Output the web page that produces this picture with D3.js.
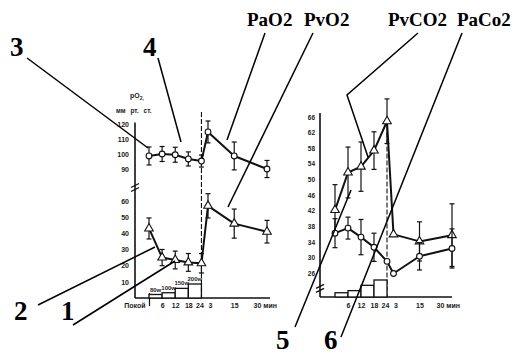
<!DOCTYPE html>
<html><head><meta charset="utf-8">
<script src="https://cdn.jsdelivr.net/npm/d3@7"></script>
<style>body{margin:0;background:#fff}svg{display:block}</style>
</head><body><svg id="c" width="515" height="354"></svg>
<script>
// ---- data ----
const times = [0, 6, 12, 18, 24, 27, 39, 54];
const leftTickLabels = ["Покой", "6", "12", "18", "24", "3", "15", "30 мин"];
const rightTickLabels = ["", "6", "12", "18", "24", "3", "15", "30 мин"];
const paO2 = [98.7, 100, 99.5, 96.7, 95.3, 114.7, 98.7, 90];
const paO2Err = [6, 5, 5, 4.7, 4, 7.3, 9.3, 5.7];
const pvO2 = [43, 25, 23.5, 22, 21.5, 57, 46, 41];
const pvO2Err = [6.5, 5, 5.5, 5.5, 6, 7.5, 9, 7];
const pvCO2 = [42.2, 51.8, 53.3, 57.4, 64.9, 36, 34.2, 35.8];
const pvCO2Err = [6.5, 6.5, 6.3, 4.8, 5.7, 0, 5, 8];
const paCO2 = [36.3, 37.6, 35.3, 32.7, 29.1, 26, 30.4, 32.4];
const paCO2Err = [3.7, 2.8, 4.5, 3.6, 0, 0, 3.5, 5];
const loadStart = [0, 6, 12, 18];
const loadWatts = [80, 100, 150, 200];
const loadLabels = ["80w", "100w", "150w", "200w"];
const leftUpperTicks = [90, 100, 110, 120];
const leftLowerTicks = [10, 20, 30, 40, 50, 60];
const rightTicks = [26, 30, 34, 38, 42, 46, 50, 54, 58, 62, 66];

const svg = d3.select("#c");
const tickFont = "'Liberation Sans', Arial, sans-serif";
const bigFont = "'Liberation Serif', 'Times New Roman', serif";

// ---- scales ----
const xL = d3.scaleLinear([0, 54], [149, 267]);
const xR = d3.scaleLinear([0, 54], [335, 452]);
const yLU = d3.scaleLinear([80, 120], [184, 124]);
const yLL = d3.scaleLinear([0, 64], [298, 194.5]);
const yR = d3.scaleLinear([20, 67], [297, 113]);
const wL = d3.scaleLinear([40, 200], [0, 14]);
const wR = d3.scaleLinear([40, 200], [0, 17]);

function styleAxis(g, size) {
  g.select(".domain").remove();
  g.selectAll("text").attr("font-family", tickFont).attr("font-weight", "bold")
    .attr("font-size", size).attr("fill", "#1a1a1a");
  g.selectAll(".tick line").attr("stroke", "#111").attr("stroke-width", 1);
}
function spreadLabels(g) {
  g.selectAll(".tick text").filter((d, i) => i === 4).attr("dx", -2);
  g.selectAll(".tick text").filter((d, i) => i === 5).attr("dx", 2);
}

// ---- left panel ----
const axL = 135;
svg.append("line").attr("x1", axL).attr("x2", axL).attr("y1", yLU(121)).attr("y2", yLL(0))
  .attr("stroke", "#111").attr("stroke-width", 1.6);
[0, 4].forEach(d => {
  svg.append("line").attr("x1", axL - 4).attr("x2", axL + 4)
    .attr("y1", yLU(79) + d + 2).attr("y2", yLU(79) + d - 2)
    .attr("stroke", "#111").attr("stroke-width", 1.3);
});
svg.append("g").attr("transform", `translate(${axL - 4},0)`)
  .call(d3.axisLeft(yLU).tickValues(leftUpperTicks).tickSize(0).tickPadding(2))
  .call(g => styleAxis(g, 7));
svg.append("g").attr("transform", `translate(${axL - 4},0)`)
  .call(d3.axisLeft(yLL).tickValues(leftLowerTicks).tickSize(0).tickPadding(2))
  .call(g => styleAxis(g, 7));
svg.append("line").attr("x1", axL).attr("x2", xL(54) + 3).attr("y1", yLL(0)).attr("y2", yLL(0))
  .attr("stroke", "#111").attr("stroke-width", 1.6);
svg.append("g").attr("transform", `translate(0,${yLL(0)})`)
  .call(d3.axisBottom(xL).tickValues(times).tickSize(0).tickPadding(5)
    .tickFormat((d, i) => leftTickLabels[i]))
  .call(g => styleAxis(g, 7))
  .call(spreadLabels)
  .call(g => {
    g.selectAll(".tick text").filter((d, i) => i === 0).attr("text-anchor", "end").attr("dx", -4);
    g.selectAll(".tick text").filter((d, i) => i === times.length - 1).attr("text-anchor", "start").attr("dx", -14);
    g.selectAll(".tick").filter((d, i) => i === 0).append("line")
      .attr("y1", -5).attr("y2", 8).attr("stroke", "#111").attr("stroke-width", 1.2);
  });
svg.append("text").attr("x", 130).attr("y", 98).attr("font-family", tickFont).attr("font-weight", "bold")
  .attr("font-size", 7).attr("fill", "#222").text("pO").append("tspan").attr("font-size", 5).attr("dy", 2).text("2,");
svg.append("text").attr("x", 116).attr("y", 113).attr("font-family", tickFont).attr("font-weight", "bold")
  .attr("font-size", 6.5).attr("fill", "#222").attr("word-spacing", 3).text("мм рт. ст.");

loadStart.forEach((s, i) => {
  svg.append("rect").attr("x", xL(s)).attr("width", xL(s + 6) - xL(s))
    .attr("y", yLL(0) - wL(loadWatts[i])).attr("height", wL(loadWatts[i]))
    .attr("fill", "#fff").attr("stroke", "#111").attr("stroke-width", 1.3);
  svg.append("text").attr("x", (xL(s) + xL(s + 6)) / 2).attr("y", yLL(0) - wL(loadWatts[i]) - 3)
    .attr("text-anchor", "middle").attr("font-family", tickFont).attr("font-weight", "bold")
    .attr("font-size", 6).attr("fill", "#222").text(loadLabels[i]);
});
svg.append("line").attr("x1", xL(24)).attr("x2", xL(24)).attr("y1", yLU(128)).attr("y2", yLL(0))
  .attr("stroke", "#111").attr("stroke-width", 1.1).attr("stroke-dasharray", "5,2");
svg.append("line").attr("x1", xR(24)).attr("x2", xR(24)).attr("y1", yR(62)).attr("y2", yR(20))
  .attr("stroke", "#111").attr("stroke-width", 1.1).attr("stroke-dasharray", "5,2");

// ---- right panel ----
const axR = 320;
svg.append("line").attr("x1", axR).attr("x2", axR).attr("y1", yR(67)).attr("y2", yR(20))
  .attr("stroke", "#111").attr("stroke-width", 1.6);
[0, 4].forEach(d => {
  svg.append("line").attr("x1", axR - 4).attr("x2", axR + 4)
    .attr("y1", yR(22.7) + d + 2).attr("y2", yR(22.7) + d - 2)
    .attr("stroke", "#111").attr("stroke-width", 1.3);
});
svg.append("g").attr("transform", `translate(${axR - 4},0)`)
  .call(d3.axisLeft(yR).tickValues(rightTicks).tickSize(0).tickPadding(1))
  .call(g => styleAxis(g, 6.5));
svg.append("line").attr("x1", axR).attr("x2", xR(54)).attr("y1", yR(20)).attr("y2", yR(20))
  .attr("stroke", "#111").attr("stroke-width", 1.6);
svg.append("g").attr("transform", `translate(0,${yR(20)})`)
  .call(d3.axisBottom(xR).tickValues(times).tickSize(0).tickPadding(6)
    .tickFormat((d, i) => rightTickLabels[i]))
  .call(g => styleAxis(g, 7))
  .call(spreadLabels)
  .call(g => {
    g.selectAll(".tick text").filter((d, i) => i === times.length - 1).attr("text-anchor", "start").attr("dx", -16);
  });
loadStart.forEach((s, i) => {
  svg.append("rect").attr("x", xR(s)).attr("width", xR(s + 6) - xR(s))
    .attr("y", yR(20) - wR(loadWatts[i])).attr("height", wR(loadWatts[i]))
    .attr("fill", "#fff").attr("stroke", "#111").attr("stroke-width", 1.3);
});

// ---- series ----
function drawSeries(x, y, vals, errs, marker) {
  const pts = times.map((t, i) => [x(t), y(vals[i]), errs[i], vals[i]]);
  const g = svg.append("g");
  pts.forEach(p => {
    if (p[2] > 0) {
      const y1 = y(p[3] + p[2]), y2 = y(p[3] - p[2]);
      g.append("line").attr("x1", p[0]).attr("x2", p[0]).attr("y1", y1).attr("y2", y2)
        .attr("stroke", "#111").attr("stroke-width", 1.2);
      [y1, y2].forEach(yy => g.append("line").attr("x1", p[0] - 2.5).attr("x2", p[0] + 2.5)
        .attr("y1", yy).attr("y2", yy).attr("stroke", "#111").attr("stroke-width", 1.2));
    }
  });
  g.append("path").attr("d", d3.line()(pts.map(p => [p[0], p[1]])))
    .attr("fill", "none").attr("stroke", "#111").attr("stroke-width", 2).attr("stroke-linejoin", "round");
  const sym = d3.symbol().type(marker === "tri" ? d3.symbolTriangle : d3.symbolCircle).size(marker === "tri" ? 32 : 26);
  pts.forEach(p => {
    g.append("path").attr("d", sym()).attr("transform", `translate(${p[0]},${p[1]})`)
      .attr("fill", "#fff").attr("stroke", "#111").attr("stroke-width", 1.1);
  });
}
drawSeries(xL, yLU, paO2, paO2Err, "circle");
drawSeries(xL, yLL, pvO2, pvO2Err, "tri");
drawSeries(xR, yR, pvCO2, pvCO2Err, "tri");
drawSeries(xR, yR, paCO2, paCO2Err, "circle");

// ---- annotations ----
const leaders = [
  [[27, 58], [148, 148]],
  [[158, 58], [181, 142]],
  [[38, 305], [155, 247]],
  [[73, 325], [175, 261]],
  [[265, 33], [227, 140]],
  [[313, 33], [228, 207]],
  [[418, 33], [347, 95], [368, 157]],
  [[462, 33], [341, 337]],
  [[295, 327], [351, 190]]
];
leaders.forEach(l => svg.append("path").attr("d", d3.line()(l)).attr("fill", "none")
  .attr("stroke", "#000").attr("stroke-width", 1.5));
const bigLabels = [
  ["3", 10, 56, 27], ["4", 143, 56, 27], ["2", 14, 320, 27], ["1", 61, 320, 27],
  ["5", 276, 349, 27], ["6", 324, 349, 27],
  ["PaO2", 247, 26, 19], ["PvO2", 304, 26, 19], ["PvCO2", 388, 26, 19], ["PaCo2", 457, 26, 19]
];
bigLabels.forEach(b => svg.append("text").attr("x", b[1]).attr("y", b[2])
  .attr("font-family", bigFont).attr("font-weight", "bold").attr("font-size", b[3])
  .attr("fill", "#000").text(b[0]));
</script></body></html>
